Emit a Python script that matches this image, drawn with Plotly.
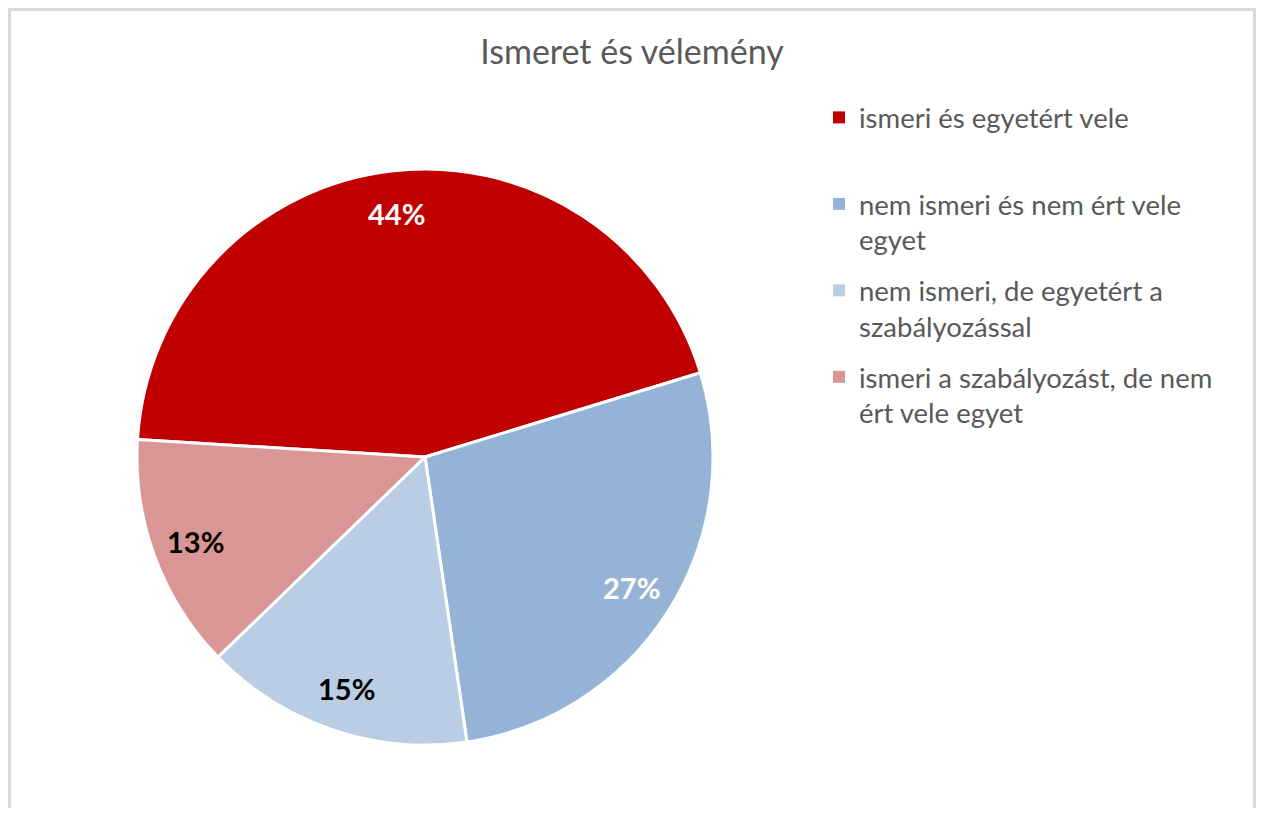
import math
import plotly.graph_objects as go

# data
labels = [
    "ismeri és egyetért vele",
    "nem ismeri és nem ért vele egyet",
    "nem ismeri, de egyetért a szabályozással",
    "ismeri a szabályozást, de nem ért vele egyet",
]
legend_text = [
    "ismeri és egyetért vele<br> ",
    "nem ismeri és nem ért vele<br>egyet",
    "nem ismeri, de egyetért a<br>szabályozással",
    "ismeri a szabályozást, de nem<br>ért vele egyet",
]
values = [44.3, 27.4, 15.1, 13.2]
colors = ["#C00000", "#95B3D7", "#B9CDE5", "#D99694"]
label_colors = ["white", "white", "black", "black"]

# page has an 8px body margin, so the figure is a bit smaller than the window
W, H = 1248, 800
cx, cy, R = 417, 449, 288
start = 273.5

fig = go.Figure()
fig.add_trace(go.Pie(
    labels=labels,
    values=values,
    sort=False,
    direction="clockwise",
    rotation=start,
    marker=dict(colors=colors, line=dict(color="white", width=3)),
    textinfo="none",
    domain=dict(x=[(cx - R) / W, (cx + R) / W], y=[(H - cy - R) / H, (H - cy + R) / H]),
    showlegend=False,
    hoverinfo="label+percent",
))

# percentage labels placed near the rim, like Excel does
total = sum(values)
annotations = []
acc = 0
for v, c in zip(values, label_colors):
    mid = math.radians(start + (acc + v / 2) / total * 360)
    acc += v
    r = 0.85 * R
    px = cx + r * math.sin(mid)
    py = cy - r * math.cos(mid)
    annotations.append(dict(
        x=px / W, y=1 - py / H, xref="paper", yref="paper",
        xanchor="center", yanchor="middle",
        text="%d%%" % round(v / total * 100), showarrow=False,
        font=dict(family="Lato", size=29, color=c, weight="bold"),
    ))

# legend entries (separate groups so the spacing can be set)
for i in range(len(labels)):
    fig.add_trace(go.Scatter(
        x=[None], y=[None], mode="markers", name=legend_text[i],
        marker=dict(symbol="square", size=12, color=colors[i]),
        legendgroup="g%d" % i, showlegend=True,
    ))

fig.update_layout(
    width=W, height=H,
    margin=dict(l=0, r=0, t=0, b=0),
    paper_bgcolor="white", plot_bgcolor="white",
    font=dict(family="Lato", color="#595959"),
    title=dict(text="Ismeret és vélemény", x=0.5, xanchor="center",
               y=1 - 44 / H, yanchor="middle",
               font=dict(family="Lato", size=34, color="#595959")),
    xaxis=dict(visible=False), yaxis=dict(visible=False),
    legend=dict(x=811 / W, xanchor="left", y=1 - 85 / H, yanchor="top",
                font=dict(family="Lato", size=27.5, color="#595959"),
                valign="top", tracegroupgap=12, bgcolor="rgba(0,0,0,0)"),
    annotations=annotations,
    shapes=[dict(type="rect", xref="paper", yref="paper",
                 x0=1.5 / W, x1=1 - 1.5 / W, y0=-0.02, y1=1 - 1.5 / H,
                 line=dict(color="#D9D9D9", width=3), layer="below")],
)

fig.write_html("out.html")
